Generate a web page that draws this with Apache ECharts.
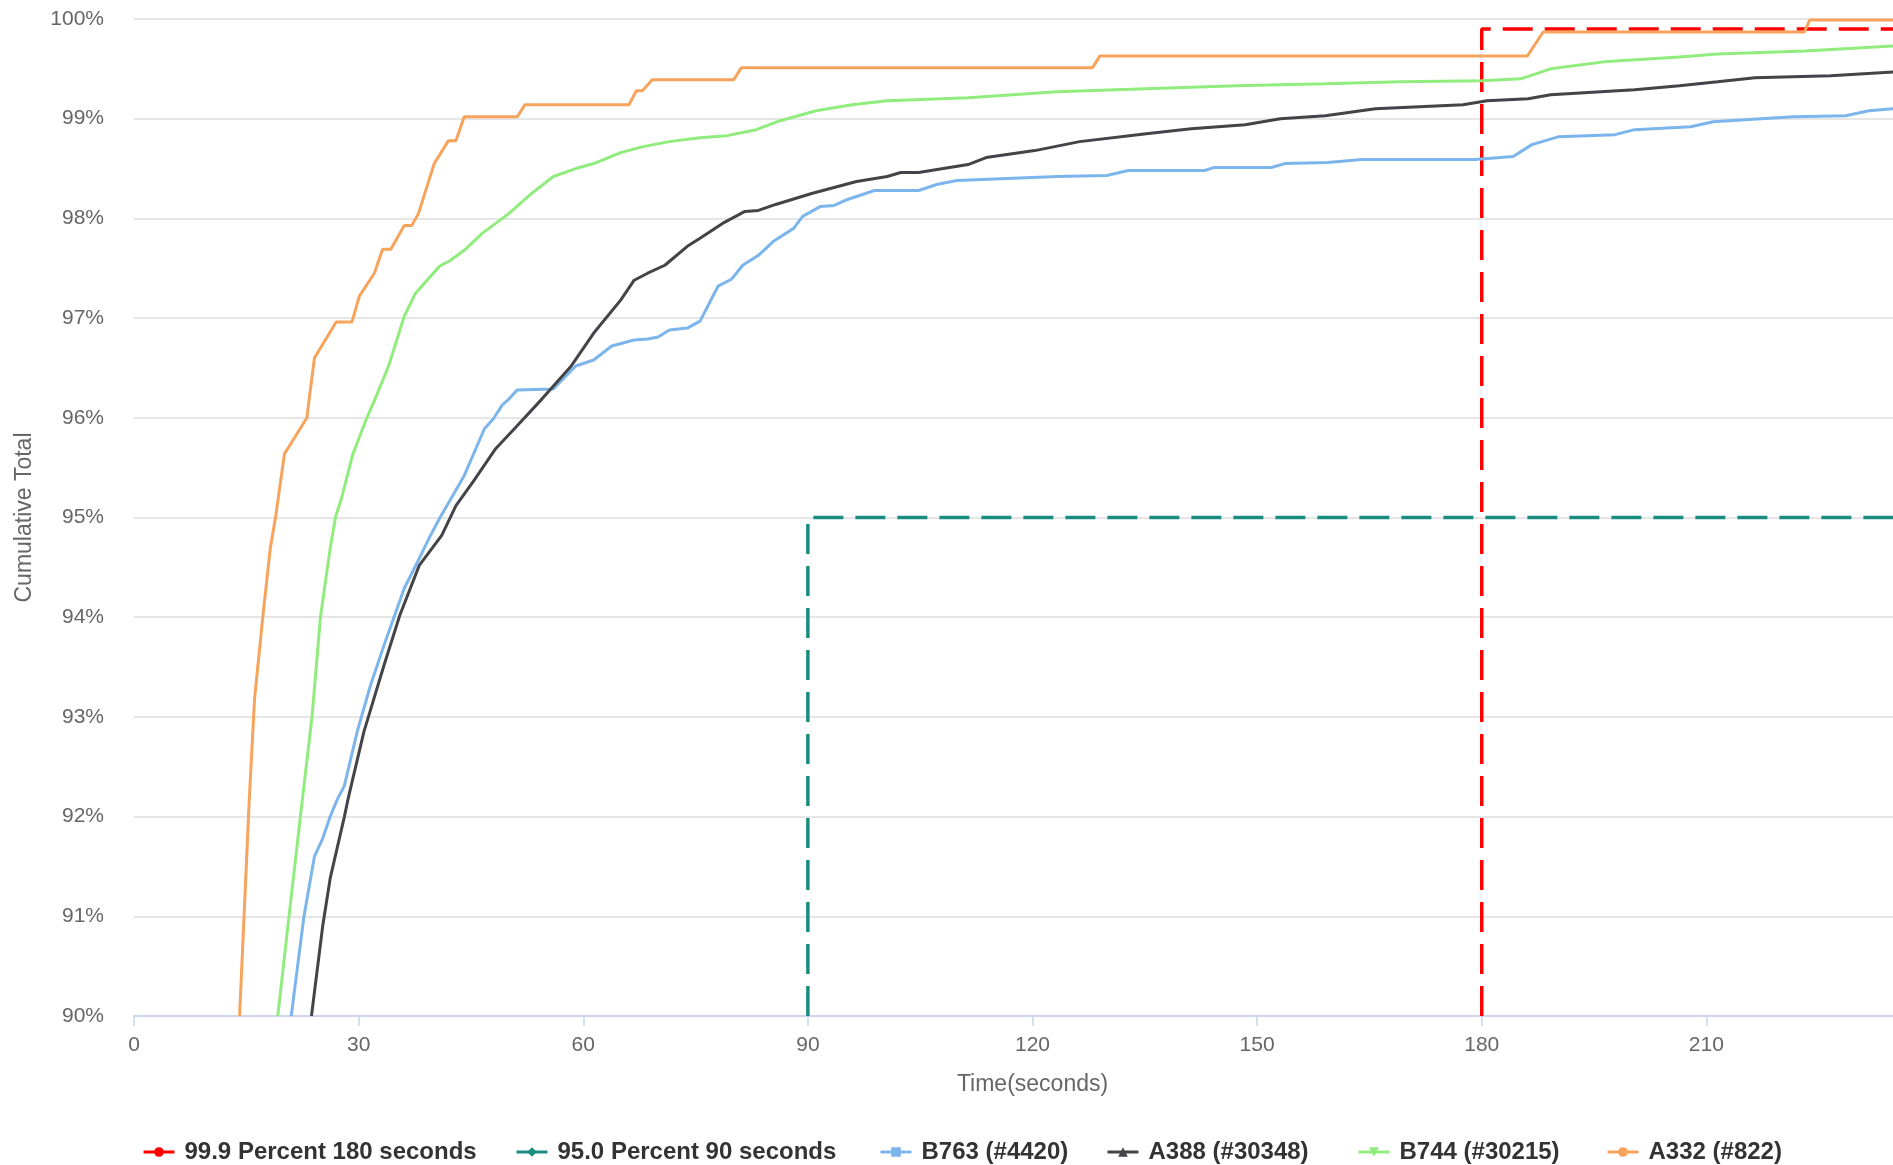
<!DOCTYPE html>
<html>
<head>
<meta charset="utf-8">
<script src="https://cdn.jsdelivr.net/npm/echarts@6/dist/echarts.min.js"></script>
<style>html,body{margin:0;padding:0;background:#fff}#c{width:1893px;height:1165px}</style>
</head>
<body>
<div id="c"></div>
<script>
// ---- data ----
const seriesNames = ['99.9 Percent 180 seconds', '95.0 Percent 90 seconds', 'B763 (#4420)', 'A388 (#30348)', 'B744 (#30215)', 'A332 (#822)'];

const p999Time = [180, 180, 240];
const p999Pct  = [90, 99.9, 99.9];

const p950Time = [90, 90, 240];
const p950Pct  = [90, 95, 95];

const b763Time = [21.0, 22.7, 24.1, 25.2, 26.2, 27.2, 28.1, 29.8, 31.6, 33.4, 36.1, 37.9, 39.6, 40.8, 44.1, 46.8, 48.0, 49.2, 50.1, 51.2, 56.0, 59.0, 61.4, 63.8, 66.8, 68.6, 70.0, 71.5, 73.9, 75.6, 78.0, 79.8, 81.3, 83.4, 85.4, 88.1, 89.3, 91.7, 93.5, 95.3, 98.9, 104.8, 107.2, 109.9, 123.3, 129.9, 132.8, 143.0, 144.2, 151.9, 153.7, 159.4, 164.0, 179.1, 184.2, 186.7, 190.3, 197.8, 200.4, 207.9, 210.9, 221.6, 228.6, 231.7, 235.1, 240];
const b763Pct  = [90, 91, 91.6, 91.78, 92.0, 92.18, 92.31, 92.85, 93.32, 93.72, 94.29, 94.56, 94.82, 94.99, 95.42, 95.89, 95.99, 96.13, 96.19, 96.28, 96.29, 96.52, 96.58, 96.72, 96.78, 96.79, 96.81, 96.88, 96.9, 96.97, 97.32, 97.39, 97.53, 97.63, 97.77, 97.9, 98.02, 98.12, 98.13, 98.19, 98.28, 98.28, 98.34, 98.38, 98.42, 98.43, 98.48, 98.48, 98.51, 98.51, 98.55, 98.56, 98.59, 98.59, 98.62, 98.74, 98.82, 98.84, 98.89, 98.92, 98.97, 99.02, 99.03, 99.08, 99.10, 99.11];

const a388Time = [23.7, 25.2, 26.2, 28.1, 28.6, 30.7, 33.4, 35.5, 38.1, 41.1, 43.0, 45.3, 48.3, 51.3, 54.5, 58.4, 61.4, 65.0, 66.8, 68.6, 70.9, 73.9, 75.6, 78.6, 81.6, 83.4, 85.7, 90.5, 96.5, 100.6, 102.4, 104.8, 111.4, 113.8, 120.3, 126.3, 135.2, 141.2, 148.4, 153.1, 159.1, 165.8, 177.5, 180.7, 186.2, 189.2, 200.4, 206.4, 211.5, 216.5, 226.6, 235.1, 240];
const a388Pct  = [90, 90.9, 91.38, 92.0, 92.18, 92.85, 93.52, 94.02, 94.52, 94.82, 95.12, 95.36, 95.69, 95.93, 96.19, 96.52, 96.85, 97.18, 97.38, 97.45, 97.53, 97.72, 97.8, 97.95, 98.07, 98.08, 98.14, 98.25, 98.37, 98.42, 98.46, 98.46, 98.54, 98.61, 98.68, 98.77, 98.85, 98.90, 98.94, 99.0, 99.03, 99.10, 99.14, 99.18, 99.20, 99.24, 99.29, 99.33, 99.37, 99.41, 99.43, 99.47, 99.48];

const b744Time = [19.2, 20.7, 22.5, 23.8, 24.9, 26.2, 26.9, 27.7, 29.2, 31.1, 32.2, 34.0, 36.1, 37.6, 40.8, 42.3, 44.1, 46.5, 50.1, 53.1, 56.0, 59.0, 61.4, 65.0, 68.0, 71.5, 75.6, 79.2, 83.1, 86.3, 91.1, 95.9, 100.6, 111.4, 123.3, 135.2, 147.2, 159.1, 169.1, 180.0, 185.2, 189.2, 196.3, 206.4, 211.5, 223.1, 235.1, 240];
const b744Pct  = [90, 91, 92.18, 93.02, 94.0, 94.69, 95.0, 95.19, 95.63, 96.0, 96.19, 96.52, 97.02, 97.25, 97.52, 97.58, 97.68, 97.85, 98.05, 98.25, 98.42, 98.5, 98.55, 98.66, 98.72, 98.77, 98.81, 98.83, 98.89, 98.98, 99.08, 99.14, 99.18, 99.21, 99.27, 99.30, 99.33, 99.35, 99.37, 99.38, 99.40, 99.50, 99.57, 99.62, 99.65, 99.68, 99.73, 99.75];

const a332Time = [14.1, 15.4, 16.1, 17.2, 18.2, 18.9, 20.1, 23.1, 23.4, 24.1, 27.0, 29.1, 30.1, 32.1, 33.2, 34.3, 36.1, 37.1, 38.0, 40.1, 42.0, 43.0, 44.1, 51.2, 52.2, 66.1, 67.1, 67.9, 69.2, 80.1, 81.1, 128.0, 129.0, 186.1, 188.2, 223.1, 223.8, 240];
const a332Pct  = [90, 92.18, 93.18, 94.0, 94.69, 95.0, 95.64, 96.0, 96.19, 96.6, 96.96, 96.96, 97.22, 97.45, 97.69, 97.69, 97.93, 97.93, 98.05, 98.55, 98.78, 98.78, 99.02, 99.02, 99.14, 99.14, 99.28, 99.28, 99.39, 99.39, 99.51, 99.51, 99.63, 99.63, 99.87, 99.87, 99.99, 99.99];

const xMin = 0, xMax = 240, xInterval = 30;
const yMin = 90, yMax = 100, yInterval = 1;

// ---- build ----
const zip = (a, b) => a.map((v, i) => [v, b[i]]);
const seriesData = [zip(p999Time, p999Pct), zip(p950Time, p950Pct), zip(b763Time, b763Pct), zip(a388Time, a388Pct), zip(b744Time, b744Pct), zip(a332Time, a332Pct)];
const colors = ['#ff0000', '#1b8c82', '#7cb5ec', '#434348', '#90ed7d', '#f7a35c'];
const symbols = ['circle', 'diamond', 'rect', 'triangle', 'path://M0,0 L10,0 L5,10 Z', 'circle'];
const legendLeft = [142, 515, 879, 1106, 1357, 1606];
const FONT = 'Liberation Sans, Arial, sans-serif';

const chart = echarts.init(document.getElementById('c'), null, {renderer: 'canvas'});
chart.setOption({
  animation: false,
  backgroundColor: '#ffffff',
  grid: {left: 134, top: 19, right: -38, bottom: 149, containLabel: false, outerBoundsMode: 'none'},
  xAxis: {
    type: 'value', min: xMin, max: xMax, interval: xInterval,
    name: 'Time(seconds)', nameLocation: 'middle', nameGap: 57,
    nameTextStyle: {color: '#666666', fontSize: 23, fontFamily: FONT},
    axisLine: {show: true, lineStyle: {color: '#ccd6eb', width: 2}},
    axisTick: {show: true, length: 10, lineStyle: {color: '#ccd6eb', width: 1.5}},
    axisLabel: {color: '#666666', fontSize: 21, fontFamily: FONT, margin: 19},
    splitLine: {show: false}
  },
  yAxis: {
    type: 'value', min: yMin, max: yMax, interval: yInterval,
    name: 'Cumulative Total', nameLocation: 'middle', nameGap: 98,
    nameTextStyle: {color: '#666666', fontSize: 23, fontFamily: FONT},
    axisLine: {show: false}, axisTick: {show: false},
    axisLabel: {color: '#666666', fontSize: 21, fontFamily: FONT, margin: 30, formatter: '{value}%'},
    splitLine: {show: true, lineStyle: {color: '#e6e6e6', width: 2}}
  },
  legend: seriesNames.map((n, i) => ({
    data: [n], left: legendLeft[i], top: 1140, padding: 0,
    itemWidth: 31, itemHeight: 12,
    lineStyle: {type: 'solid', width: 3},
    textStyle: {color: '#333333', fontSize: 24, fontWeight: 'bold', fontFamily: FONT, padding: [0, 0, 0, 5]}
  })),
  series: seriesNames.map((n, i) => ({
    name: n, type: 'line', data: seriesData[i],
    showSymbol: false, symbol: symbols[i], symbolSize: 10,
    color: colors[i],
    lineStyle: i < 2 ? {color: colors[i], width: 3.5, type: [30, 12]} : {color: colors[i], width: 3},
    itemStyle: {color: colors[i]},
    emphasis: {disabled: true},
    clip: true
  }))
});
</script>
</body>
</html>
